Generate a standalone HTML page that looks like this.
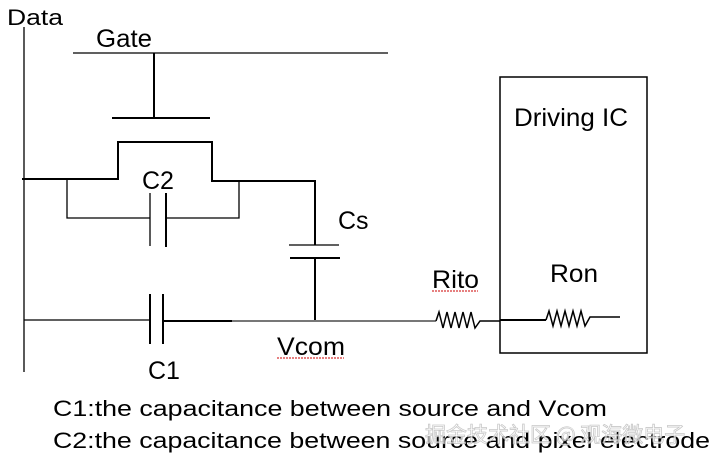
<!DOCTYPE html>
<html><head><style>html,body{margin:0;padding:0;background:#fff;}svg{display:block}</style></head>
<body>
<svg width="716" height="458" xmlns="http://www.w3.org/2000/svg" font-family="Liberation Sans, Arial, sans-serif" fill="#000">
<g stroke="#000" fill="none" stroke-width="1.3">
<line x1="24" y1="27" x2="24" y2="372"/>
<line x1="73" y1="53" x2="388" y2="53"/>
<line x1="154" y1="53" x2="154" y2="118" stroke-width="2"/>
<line x1="112" y1="118" x2="210" y2="118" stroke-width="2"/>
<polyline points="22,179 118,179 118,142 212,142 212,181 315,181 315,245" stroke-width="2"/>
<polyline points="67,179 67,218 150,218"/>
<polyline points="166,218 239,218 239,181"/>
<line x1="150" y1="193" x2="150" y2="246"/>
<line x1="166" y1="193" x2="166" y2="247" stroke-width="2"/>
<line x1="289" y1="245" x2="339" y2="245"/>
<line x1="290" y1="258" x2="340" y2="258" stroke-width="2"/>
<line x1="315" y1="258" x2="315" y2="321" stroke-width="2"/>
<line x1="24" y1="320" x2="150" y2="320"/>
<line x1="150" y1="294" x2="150" y2="344" stroke-width="2"/>
<line x1="163" y1="294" x2="163" y2="344" stroke-width="2"/>
<line x1="163" y1="321" x2="232" y2="321" stroke-width="2"/>
<line x1="232" y1="321" x2="436" y2="321" stroke="#777" stroke-width="2"/>
<polyline points="436,321 439,312 443,328 447,312 451,328 455,312 459,328 463,312 467,328 471,312 475,328 480,321 500,321" stroke-width="1.5"/>
<line x1="500" y1="320" x2="546" y2="320" stroke-width="2"/>
<polyline points="546,320 549,311 553,326 557,311 561,326 565,311 569,326 573,311 577,326 581,311 585,326 590,317 620,317" stroke-width="1.5"/>
<rect x="500" y="77" width="147" height="276" stroke-width="1.5"/>
</g>
<g font-size="25">
<text x="7" y="25" font-size="22" textLength="56" lengthAdjust="spacingAndGlyphs">Data</text>
<text x="96" y="47" textLength="56" lengthAdjust="spacingAndGlyphs">Gate</text>
<text x="142" y="189">C2</text>
<text x="338" y="229">Cs</text>
<text x="148" y="379">C1</text>
<text x="277" y="355" textLength="68" lengthAdjust="spacingAndGlyphs">Vcom</text>
<text x="432" y="288" textLength="47" lengthAdjust="spacingAndGlyphs">Rito</text>
<text x="550" y="282" textLength="48" lengthAdjust="spacingAndGlyphs">Ron</text>
<text x="514" y="126" textLength="114" lengthAdjust="spacingAndGlyphs">Driving IC</text>
<text x="53" y="416" font-size="22" textLength="554" lengthAdjust="spacingAndGlyphs">C1:the capacitance between source and Vcom</text>
<text x="53" y="448" font-size="22" textLength="657" lengthAdjust="spacingAndGlyphs">C2:the capacitance between source and pixel electrode</text>
</g>
<g stroke="#c00" fill="none" stroke-width="1" stroke-dasharray="2,1">
<line x1="277" y1="358" x2="344" y2="358"/>
<line x1="432" y1="291" x2="478" y2="291"/>
</g>
<text x="425" y="442" font-size="21" fill="#fff" stroke="#bbb" stroke-width="0.8" font-family="Noto Sans CJK SC, sans-serif" opacity="0.8">掘金技术社区 @ 观海微电子</text>
</svg>
</body></html>
